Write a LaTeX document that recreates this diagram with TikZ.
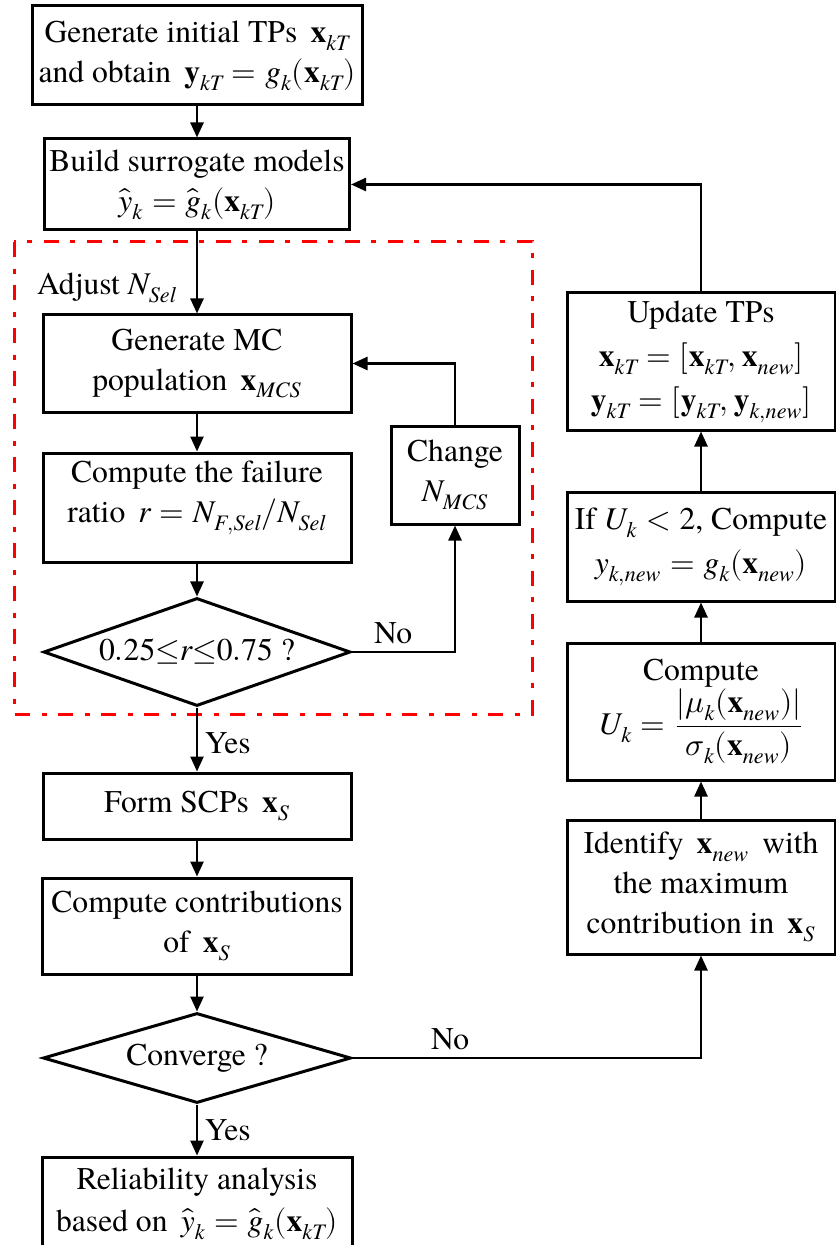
\documentclass[tikz,border=0pt]{standalone}
\usepackage{amsmath}
\usepackage{unicode-math}
\setmainfont{texgyretermes}[Extension=.otf, UprightFont=*-regular, BoldFont=*-bold, ItalicFont=*-italic, BoldItalicFont=*-bolditalic]
\setmathfont{latinmodern-math.otf}
\setmathfont{texgyretermes-italic.otf}[range={it/{Latin,latin}}]
\setmathfont{texgyretermes-regular.otf}[range={up/{Latin,latin,num}}]
\setmathfont{texgyretermes-bold.otf}[range={bfup/{Latin,latin}}]
\usetikzlibrary{arrows.meta,shapes.geometric}
\begin{document}
\begin{tikzpicture}
		[x=0.5pt, y=-0.5pt,
		every node/.style={font=\fontsize{15.8}{20}\selectfont},
		box/.style={draw, line width=1.5pt, align=center, inner sep=0pt},
		decision/.style={draw, diamond, line width=1.5pt, inner sep=0pt},
		arr/.style={line width=1.25pt, -{Triangle[length=7.5pt,width=6.5pt]}}]
		\useasboundingbox (0,0) rectangle (835,1245);
		% left column
		\node[box, minimum width=165pt, minimum height=49.5pt] (init) at (197,55.5)
			{Generate initial TPs \,$\mathbf{x}_{kT}$\\ and obtain \,$\mathbf{y}_{kT}=g_k(\mathbf{x}_{kT})$};
		\node[box, minimum width=152.5pt, minimum height=45.5pt] (build) at (197,184.5)
			{Build surrogate models\\ $\hat{y}_k=\hat{g}_k(\mathbf{x}_{kT})$};
		\node[anchor=base west] (adjust) at (30,295) {Adjust $N_{Sel}$};
		\node[box, minimum width=154pt, minimum height=48.5pt] (gen) at (197,363.5)
			{Generate MC\\ population \,$\mathbf{x}_{MCS}$};
		\node[box, minimum width=154pt, minimum height=54.5pt] (ratio) at (197,507.5)
			{Compute the failure\\ ratio \,$r=N_{F,Sel}/N_{Sel}$\rule[-16pt]{0pt}{16pt}};
		\node[decision, aspect=2.84, minimum width=153.5pt, minimum height=54pt] (range) at (197,652)
			{$0.25{\le}r{\le}0.75$ ?};
		\node[box, minimum width=64pt, minimum height=49pt] (change) at (455,475)
			{Change\\ $N_{MCS}$};
		\node[box, minimum width=154pt, minimum height=33pt] (form) at (197,806)
			{Form SCPs \,$\mathbf{x}_S$};
		\node[box, minimum width=154.5pt, minimum height=48pt] (contrib) at (197,926)
			{Compute contributions\\ of \,$\mathbf{x}_S$};
		\node[decision, aspect=3.42, minimum width=154pt, minimum height=45pt] (conv) at (197,1058)
			{Converge ?};
		\node[box, minimum width=155pt, minimum height=46.5pt] (reliab) at (197,1203.5)
			{Reliability analysis\\[1pt] based on \,$\hat{y}_k=\hat{g}_k(\mathbf{x}_{kT})$};
		% right column
		\node[box, minimum width=134pt, minimum height=68.5pt] (update) at (701,361.5)
			{Update TPs\\[2pt] $\mathbf{x}_{kT}=[\mathbf{x}_{kT},\mathbf{x}_{new}]$\\[2pt] $\mathbf{y}_{kT}=[\mathbf{y}_{kT},\mathbf{y}_{k,new}]$};
		\node[box, minimum width=134pt, minimum height=54.5pt] (ifu) at (701,546.5)
			{If $U_k<2$, Compute\\[2pt] $y_{k,new}=g_k(\mathbf{x}_{new})$};
		\node[box, minimum width=134pt, minimum height=68.5pt] (ucomp) at (701,711.5)
			{Compute\\ $U_k=\dfrac{\left|\mu_k(\mathbf{x}_{new})\right|}{\sigma_k(\mathbf{x}_{new})}$};
		\node[box, minimum width=134pt, minimum height=67pt] (ident) at (701,887)
			{Identify \,$\mathbf{x}_{new}$\, with\\ the maximum\\ contribution in \,$\mathbf{x}_S$};
		% frame
		\draw[red, line width=1.5pt, dash pattern=on 7.5pt off 6pt on 2.5pt off 5.5pt]
			(14,242) rectangle (532,714);
		% connectors
		\draw[arr] (init) -- (build);
		\draw[arr] (build) -- (gen);
		\draw[arr] (gen) -- (ratio);
		\draw[arr] (ratio) -- (range);
		\draw[arr] (range) -- node[right, pos=0.55]{Yes} (form);
		\draw[arr] (form) -- (contrib);
		\draw[arr] (contrib) -- (conv);
		\draw[arr] (conv) -- node[right]{Yes} (reliab);
		\draw[arr] (range.east) -| node[above, pos=0.2]{No} (change.south);
		\draw[arr] (change.north) |- (gen.east);
		\draw[arr] (conv.east) -| node[above, pos=0.14]{No} (ident.south);
		\draw[arr] (ident) -- (ucomp);
		\draw[arr] (ucomp) -- (ifu);
		\draw[arr] (ifu) -- (update);
		\draw[arr] (update.north) |- (build.east);
\end{tikzpicture}
\end{document}
